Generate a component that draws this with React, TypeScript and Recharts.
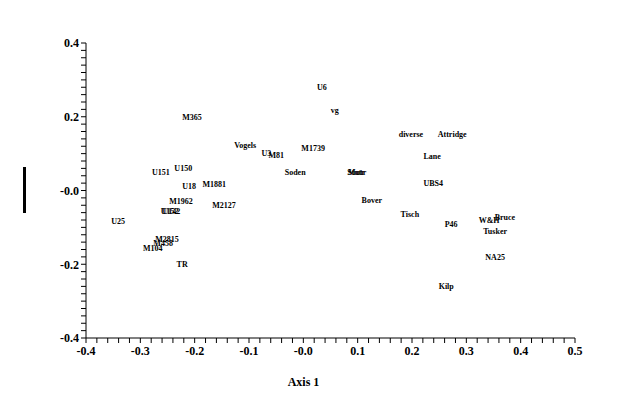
import { ScatterChart, Scatter, XAxis, YAxis } from 'recharts'

// site labels and their ordination scores (axis 1, axis 2)
const names = [
  'U6', 'vg', 'M365', 'Vogels', 'U3', 'M81', 'M1739', 'Soden', 'Mutr', 'Stutr',
  'diverse', 'Attridge', 'Lane', 'UBS4', 'Bover', 'Tisch', 'P46', 'W&H', 'Bruce',
  'Tusker', 'NA25', 'Kilp', 'U151', 'U150', 'U18', 'M1881', 'M1962', 'M2127',
  'U152', 'U142', 'U25', 'M2815', 'M458', 'M104', 'TR',
]
const axis1 = [
  0.034, 0.058, -0.205, -0.107, -0.068, -0.050, 0.018, -0.015, 0.099, 0.097,
  0.198, 0.274, 0.237, 0.239, 0.126, 0.196, 0.272, 0.342, 0.371,
  0.353, 0.353, 0.263, -0.262, -0.221, -0.210, -0.164, -0.225, -0.146,
  -0.246, -0.243, -0.341, -0.251, -0.258, -0.277, -0.223,
]
const axis2 = [
  0.278, 0.216, 0.197, 0.121, 0.099, 0.094, 0.115, 0.048, 0.050, 0.050,
  0.153, 0.153, 0.091, 0.018, -0.028, -0.064, -0.093, -0.080, -0.072,
  -0.112, -0.183, -0.259, 0.050, 0.061, 0.012, 0.015, -0.031, -0.042,
  -0.058, -0.058, -0.085, -0.134, -0.145, -0.158, -0.202,
]

const xTickLabels = [-0.4, -0.3, -0.2, -0.1, 0, 0.1, 0.2, 0.3, 0.4, 0.5]
const yTickLabels = [-0.4, -0.2, 0, 0.2, 0.4]

const data = names.map((name, i) => ({ name, x: axis1[i], y: axis2[i] }))

// minor ticks every 0.02
const xTicks: number[] = []
for (let i = -20; i <= 25; i++) xTicks.push(Math.round(i * 2) / 100)
const yTicks: number[] = []
for (let i = -20; i <= 20; i++) yTicks.push(Math.round(i * 2) / 100)

const isLabel = (v: number, labels: number[]) =>
  labels.some((l) => Math.abs(l - v) < 1e-6)

const fmt = (v: number) => (Math.abs(v) < 1e-6 ? '-0.0' : v.toFixed(1))

const font = '"Liberation Serif", "Times New Roman", serif'

const SiteLabel = (props: any) => {
  const { cx, cy, payload } = props
  return (
    <text
      x={cx}
      y={cy}
      textAnchor="middle"
      dominantBaseline="central"
      fontFamily={font}
      fontWeight="bold"
      fontSize={8}
      fill="#000"
    >
      {payload.name}
    </text>
  )
}

export default function App() {
  return (
    <div style={{ position: 'absolute', left: 0, top: 0, width: 624, height: 413, background: '#fff' }}>
      <div style={{ position: 'absolute', left: 23, top: 167, width: 3, height: 46, background: '#000' }} />
      <ScatterChart
        width={624}
        height={413}
        margin={{ top: 43, right: 49, bottom: 45, left: 46 }}
      >
        <XAxis
          type="number"
          dataKey="x"
          domain={[-0.4, 0.5]}
          ticks={xTicks}
          interval={0}
          height={30}
          stroke="#000"
          tickSize={5}
          tickMargin={3}
          tickFormatter={(v: number) => (isLabel(v, xTickLabels) ? fmt(v) : '')}
          tick={{ fill: '#000', fontFamily: font, fontWeight: 'bold', fontSize: 12 }}
          label={{
            value: 'Axis 1',
            position: 'bottom',
            dx: -27,
            dy: 4,
            fill: '#000',
            fontFamily: font,
            fontWeight: 'bold',
            fontSize: 12,
          }}
        />
        <YAxis
          type="number"
          dataKey="y"
          domain={[-0.4, 0.4]}
          ticks={yTicks}
          interval={0}
          width={40}
          stroke="#000"
          tickSize={5}
          tickMargin={2}
          tickFormatter={(v: number) => (isLabel(v, yTickLabels) ? fmt(v) : '')}
          tick={{ fill: '#000', fontFamily: font, fontWeight: 'bold', fontSize: 12 }}
        />
        <Scatter data={data} shape={SiteLabel} isAnimationActive={false} />
      </ScatterChart>
    </div>
  )
}
